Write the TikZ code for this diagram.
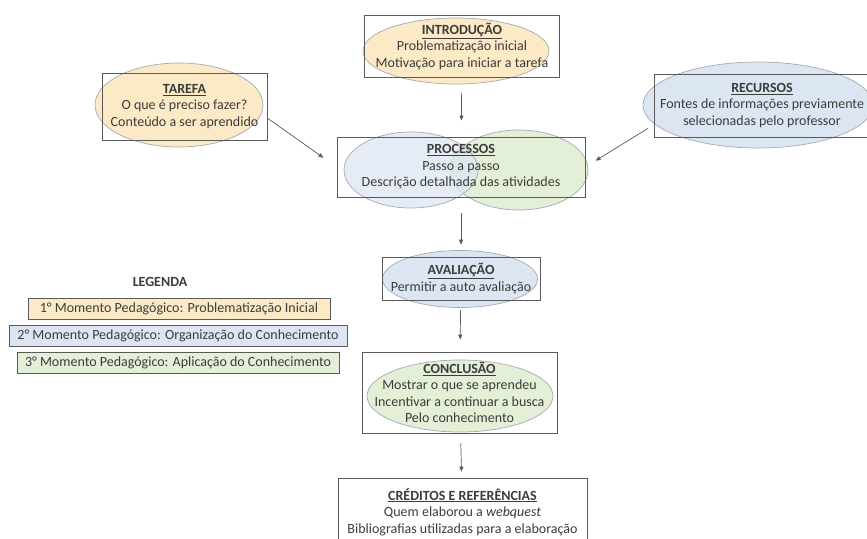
\documentclass[tikz,border=0pt]{standalone}
\usepackage{fontspec}
\setmainfont{Carlito}
\usetikzlibrary{shapes.geometric}
\usetikzlibrary{arrows.meta}
\definecolor{momentOneColor}{HTML}{FCEAC6}
\definecolor{momentTwoColor}{HTML}{DCE6F2}
\definecolor{momentThreeColor}{HTML}{E3EFD7}
\definecolor{outlineColor}{HTML}{A3AAB3}
\definecolor{boxColor}{HTML}{5A5A5A}
\definecolor{textColor}{HTML}{3C3C3C}

\begin{document}
\begin{tikzpicture}[x=1pt,y=-1pt]

            \tikzstyle{blockNode} = [draw=boxColor, line width=0.8pt, inner sep=0pt, align=center, text=textColor, font=\fontsize{14}{16.5}\selectfont];
            \tikzstyle{shapeNode} = [draw=outlineColor, line width=0.7pt, ellipse, inner sep=0pt];
            \tikzstyle{legendNode} = [draw=boxColor, line width=0.7pt, inner sep=0pt, minimum height=21pt, text=textColor, font=\fontsize{14}{16}\selectfont];
            \tikzstyle{arrowEdge} = [draw=boxColor, line width=0.7pt, -{Triangle[length=5pt,width=4pt]}];

            \newcommand*\blockTitle[1]{\textbf{\underline{#1}}}

            \useasboundingbox (0,0) rectangle (867,538);

            % ellipses behind the boxes
            \node[shapeNode, fill=momentOneColor, minimum width=186pt, minimum height=66pt] (introShape) at (456,51) {};
            \node[shapeNode, fill=momentOneColor, minimum width=168pt, minimum height=84pt] (tarefaShape) at (179,105) {};
            \node[shapeNode, fill=momentTwoColor, minimum width=230pt, minimum height=86pt] (recursosShape) at (758,105) {};
            \node[shapeNode, fill=momentThreeColor, minimum width=138pt, minimum height=80pt] (processosShapeB) at (519,170) {};
            \node[shapeNode, fill=momentTwoColor, fill opacity=0.75, minimum width=134pt, minimum height=76pt] (processosShapeA) at (411,170) {};
            \node[shapeNode, fill=momentTwoColor, minimum width=155pt, minimum height=57pt] (avaliacaoShape) at (460,279) {};
            \node[shapeNode, fill=momentThreeColor, minimum width=186pt, minimum height=72pt] (conclusaoShape) at (460,396) {};

            % boxes
            \node[blockNode, minimum width=195pt, minimum height=62pt] (intro) at (462,46)
                {\blockTitle{INTRODUÇÃO}\\Problematização inicial\\Motivação para iniciar a tarefa};
            \node[blockNode, minimum width=165pt, minimum height=67pt] (tarefa) at (184.5,106.5)
                {\blockTitle{TAREFA}\\O que é preciso fazer?\\Conteúdo a ser aprendido};
            \node[blockNode, minimum width=215pt, minimum height=63pt] (recursos) at (762,105.5)
                {\blockTitle{RECURSOS}\\Fontes de informações previamente\\selecionadas pelo professor};
            \node[blockNode, minimum width=248pt, minimum height=60pt] (processos) at (461,167)
                {\blockTitle{PROCESSOS}\\Passo a passo\\Descrição detalhada das atividades};
            \node[blockNode, minimum width=158pt, minimum height=43pt] (avaliacao) at (461,278.5)
                {\blockTitle{AVALIAÇÃO}\\Permitir a auto avaliação};
            \node[blockNode, minimum width=195pt, minimum height=81pt] (conclusao) at (459.5,392.5)
                {\blockTitle{CONCLUSÃO}\\Mostrar o que se aprendeu\\Incentivar a continuar a busca\\Pelo conhecimento};
            \node[blockNode, minimum width=249pt, minimum height=68pt] (creditos) at (462.5,512)
                {\blockTitle{CRÉDITOS E REFERÊNCIAS}\\Quem elaborou a \textit{webquest}\\Bibliografias utilizadas para a elaboração};

            % legend
            \node[text=textColor, font=\bfseries\fontsize{14}{16}\selectfont] (legenda) at (160,282) {LEGENDA};
            \node[legendNode, fill=momentOneColor, minimum width=302pt] (momentOne) at (179,309) {1° Momento Pedagógico: Problematização Inicial};
            \node[legendNode, fill=momentTwoColor, minimum width=338pt] (momentTwo) at (178,336) {2° Momento Pedagógico: Organização do Conhecimento};
            \node[legendNode, fill=momentThreeColor, minimum width=322pt] (momentThree) at (178,363) {3° Momento Pedagógico: Aplicação do Conhecimento};

            \draw[arrowEdge, shorten <=15pt, shorten >=16pt] (intro) -- (processos);
            \draw[arrowEdge, shorten >=16pt] (tarefa.-8) -- (processos.west);
            \draw[arrowEdge, shorten <=7pt, shorten >=12pt] (recursos.190) -- (processos.east);
            \draw[arrowEdge, shorten <=16pt, shorten >=12pt] (processos) -- (avaliacao);
            \draw[arrowEdge, shorten <=10pt, shorten >=12pt] (avaliacao) -- (conclusao);
            \draw[arrowEdge, shorten <=10pt, shorten >=6pt] (conclusao) -- (creditos);
          \end{tikzpicture}
\end{document}
